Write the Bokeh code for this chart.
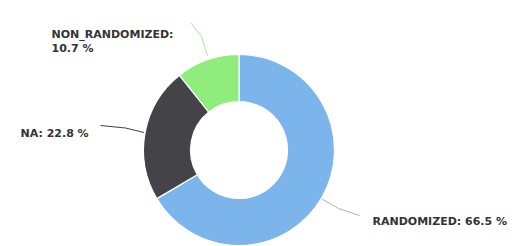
import math
from bokeh.plotting import figure
from bokeh.models import Range1d, ColumnDataSource
from bokeh.core.properties import value
from bokeh.embed import file_html
from bokeh.resources import INLINE

# data
categories = ["RANDOMIZED", "NA", "NON_RANDOMIZED"]
percents = [66.5, 22.8, 10.7]
colors = ["#7cb5ec", "#434348", "#90ed7d"]

W, H = 512, 246

def X(px):
    return px

def Y(py):
    return H - py

cx, cy = X(238.5), Y(149.5)
r_in, r_out = 48.5, 95.5

total = sum(percents)
starts, ends = [], []
cum = 0.0
for v in percents:
    starts.append(math.pi / 2 - cum / total * 2 * math.pi)
    cum += v
    ends.append(math.pi / 2 - cum / total * 2 * math.pi)

src = ColumnDataSource(dict(cat=categories, val=percents, color=colors,
                            start=starts, end=ends))

p = figure(width=W, height=H, output_backend="svg", toolbar_location=None,
           x_range=Range1d(0, W), y_range=Range1d(0, H), min_border=0)
p.axis.visible = False
p.grid.visible = False
p.outline_line_color = None
p.background_fill_color = "white"

p.annular_wedge(x=cx, y=cy, inner_radius=r_in, outer_radius=r_out,
                start_angle="start", end_angle="end", direction="clock",
                fill_color="color", line_color="white", line_width=1.2,
                source=src)

# connectors (page coordinates)
connectors = {
    "RANDOMIZED": [(321.5, 198.5), (338, 208), (359, 215)],
    "NA": [(143.5, 132), (125, 127.5), (100, 125)],
    "NON_RANDOMIZED": [(207, 55.5), (201, 36), (190, 22)],
}
conn_colors = {"RANDOMIZED": "#a9b4c4", "NA": "#434348", "NON_RANDOMIZED": "#a8e69a"}
for cat in categories:
    pts = connectors[cat]
    p.line([X(a) for a, b in pts], [Y(b) for a, b in pts],
           line_color=conn_colors[cat], line_width=1)

# labels (page baseline positions)
label_lines = {
    "RANDOMIZED": [(f"{categories[0]}: {percents[0]} %", 372, 220.5)],
    "NA": [(f"{categories[1]}: {percents[1]} %", 20, 133)],
    "NON_RANDOMIZED": [(f"{categories[2]}:", 51, 34), (f"{percents[2]} %", 51, 48)],
}
tx, ty, tt = [], [], []
for cat in categories:
    for t, a, b in label_lines[cat]:
        tx.append(X(a)); ty.append(Y(b)); tt.append(t)
p.text(x=tx, y=ty, text=tt, text_font=value("DejaVu Sans"), text_font_style="bold",
       text_font_size="11px", text_color="#333333", text_baseline="alphabetic",
       text_align="left")

open("out.html", "w").write(file_html(p, INLINE))
